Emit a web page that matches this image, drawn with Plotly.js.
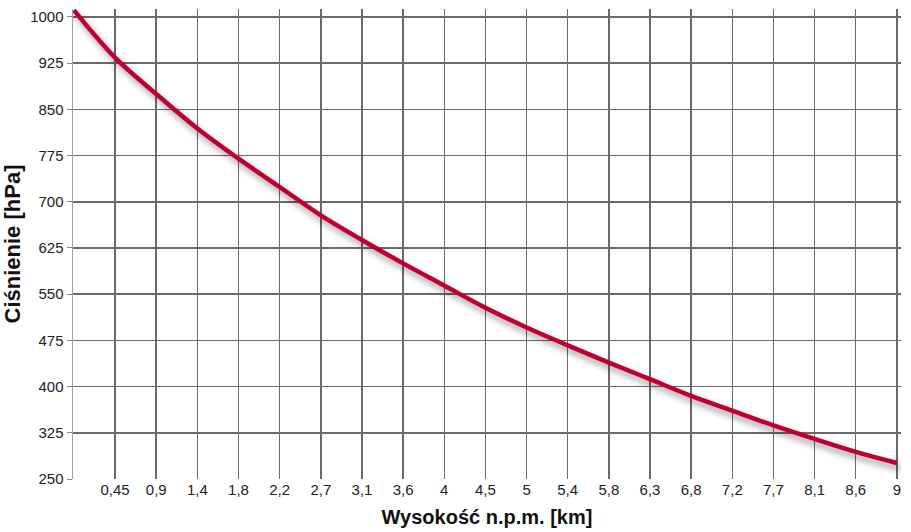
<!DOCTYPE html>
<html>
<head>
<meta charset="utf-8">
<script src="https://cdn.plot.ly/plotly-3.0.1.min.js"></script>
<style>
  html, body { margin: 0; padding: 0; background: #fff; }
  #chart { width: 911px; height: 532px; }
  .scatterlayer .trace path.js-line { filter: drop-shadow(3px 5px 3px rgba(0,0,0,0.4)); }
</style>
</head>
<body>
<div id="chart"></div>
<script>
// Altitude (km) and pressure (hPa)
const altitudeKm = [0, 0.45, 0.9, 1.35, 1.8, 2.25, 2.7, 3.15, 3.6, 4.05, 4.5, 4.95, 5.4, 5.85, 6.3, 6.75, 7.2, 7.65, 8.1, 8.55, 9];
const pressureHPa = [1011, 934, 875, 819, 770, 724, 678, 638, 600, 564, 528, 496, 467, 439, 412, 385, 361, 337, 315, 294, 276];

// X tick positions and their labels
const xTickVals = [0.45, 0.9, 1.35, 1.8, 2.25, 2.7, 3.15, 3.6, 4.05, 4.5, 4.95, 5.4, 5.85, 6.3, 6.75, 7.2, 7.65, 8.1, 8.55, 9];
const xTickText = ["0,45", "0,9", "1,4", "1,8", "2,2", "2,7", "3,1", "3,6", "4", "4,5", "5", "5,4", "5,8", "6,3", "6,8", "7,2", "7,7", "8,1", "8,6", "9"];
// Y ticks
const yTickVals = [250, 325, 400, 475, 550, 625, 700, 775, 850, 925, 1000];

const xTitle = "Wysokość n.p.m. [km]";
const yTitle = "Ciśnienie [hPa]";

const trace = {
  x: altitudeKm,
  y: pressureHPa,
  type: 'scatter',
  mode: 'lines',
  line: { color: '#bd0030', width: 4.5, shape: 'spline', smoothing: 1 },
  hoverinfo: 'x+y'
};

const layout = {
  width: 911,
  height: 532,
  margin: { l: 73, r: 10, t: 8, b: 52 },
  paper_bgcolor: '#ffffff',
  plot_bgcolor: '#ffffff',
  showlegend: false,
  separators: ', ',
  font: { family: 'Liberation Sans, Arial, sans-serif', size: 15, color: '#222' },
  xaxis: {
    range: [-0.01, 9.045],
    tickmode: 'array',
    tickvals: xTickVals,
    ticktext: xTickText,
    showgrid: true,
    gridcolor: '#6a6a6a',
    gridwidth: 1.5,
    zeroline: false,
    showline: false,
    ticks: '',
    automargin: true,
    tickfont: { family: 'Liberation Sans, Arial, sans-serif', size: 15, color: '#222' },
    title: { text: xTitle, font: { family: 'Liberation Sans, Arial, sans-serif', size: 20, color: '#111', weight: 'bold' }, standoff: 12 },
    fixedrange: true
  },
  yaxis: {
    range: [250, 1012.9],
    tickmode: 'array',
    tickvals: yTickVals,
    showgrid: true,
    gridcolor: '#6a6a6a',
    gridwidth: 1.5,
    zeroline: false,
    showline: true,
    linecolor: '#a0a0a0',
    linewidth: 1.5,
    ticks: 'outside',
    ticklen: 5,
    tickcolor: '#888',
    automargin: true,
    tickfont: { family: 'Liberation Sans, Arial, sans-serif', size: 15, color: '#222' },
    title: { text: yTitle, font: { family: 'Liberation Sans, Arial, sans-serif', size: 22, color: '#111', weight: 'bold' }, standoff: 6 },
    fixedrange: true
  }
};

Plotly.newPlot('chart', [trace], layout, { displayModeBar: false, staticPlot: true });
</script>
</body>
</html>
